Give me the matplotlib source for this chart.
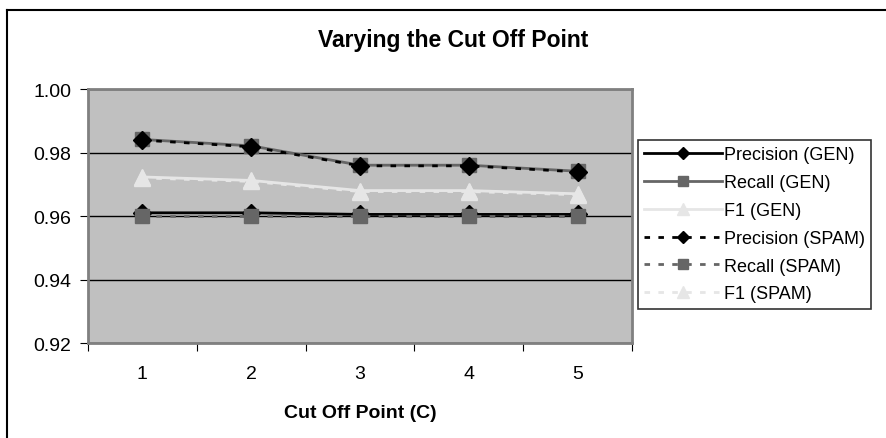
import matplotlib
matplotlib.use('Agg')
import matplotlib.pyplot as plt
from matplotlib.lines import Line2D

plt.rcParams['font.family'] = ['Liberation Sans', 'DejaVu Sans']

# data
cutoff = [1, 2, 3, 4, 5]
precision_gen = [0.9610, 0.9610, 0.9605, 0.9605, 0.9605]
recall_gen = [0.9841, 0.9821, 0.9760, 0.9760, 0.9741]
f1_gen = [0.9723, 0.9712, 0.9680, 0.9680, 0.9670]
precision_spam = [0.9839, 0.9818, 0.9758, 0.9758, 0.9739]
recall_spam = [0.9600, 0.9600, 0.9600, 0.9600, 0.9600]
f1_spam = [0.9720, 0.9709, 0.9677, 0.9677, 0.9667]
y_ticks = [0.92, 0.94, 0.96, 0.98, 1.00]

fig = plt.figure(figsize=(8.86, 4.39), dpi=100)
ax = fig.add_axes([88 / 886, 1 - 344 / 439, 544 / 886, 254 / 439])
ax.set_facecolor('#C0C0C0')

# figure border (only top and left visible)
fig.add_artist(Line2D([7 / 886, 7 / 886], [0, 1 - 11 / 439], color='black', lw=1.5))
fig.add_artist(Line2D([7 / 886, 1], [1 - 11 / 439, 1 - 11 / 439], color='black', lw=1.5))

ax.plot(cutoff, precision_gen, color='black', lw=2, marker='D', ms=9,
        mfc='black', mec='black', label='Precision (GEN)', zorder=3)
ax.plot(cutoff, recall_gen, color='#666666', lw=2, marker='s', ms=10.5,
        mfc='#666666', mec='#666666', label='Recall (GEN)', zorder=3)
ax.plot(cutoff, f1_gen, color='#E6E6E6', lw=2, marker='^', ms=12,
        mfc='#E6E6E6', mec='#E6E6E6', label='F1 (GEN)', zorder=3)
ax.plot(cutoff, precision_spam, color='black', lw=2, ls=(0, (2, 3)), marker='D', ms=9,
        mfc='black', mec='black', label='Precision (SPAM)', zorder=4)
ax.plot(cutoff, recall_spam, color='#666666', lw=2, ls=(0, (2, 3)), marker='s', ms=10.5,
        mfc='#666666', mec='#666666', label='Recall (SPAM)', zorder=4)
ax.plot(cutoff, f1_spam, color='#E6E6E6', lw=2, ls=(0, (2, 3)), marker='^', ms=12,
        mfc='#E6E6E6', mec='#E6E6E6', label='F1 (SPAM)', zorder=4)

ax.set_xlim(0.5, 5.5)
ax.set_ylim(0.92, 1.00)
ax.set_yticks(y_ticks)
ax.set_yticklabels([f'{v:.2f}' for v in y_ticks], fontsize=14)
ax.set_xticks([i + 0.5 for i in range(0, 6)])
ax.set_xticklabels([])
ax.set_xticks(cutoff, minor=True)
ax.set_xticklabels([str(c) for c in cutoff], minor=True, fontsize=14)
ax.tick_params(axis='x', which='minor', length=0, pad=16)
ax.tick_params(axis='x', which='major', length=6, direction='out', color='black')
ax.tick_params(axis='y', length=6, direction='out', color='black', pad=6)
ax.yaxis.grid(True, color='black', lw=1)
ax.set_axisbelow(True)
for s in ax.spines.values():
    s.set_color('#808080')
    s.set_linewidth(2)

fig.text(453 / 886, 1 - 40 / 439, 'Varying the Cut Off Point', fontsize=16.5,
         fontweight='bold', ha='center', va='center')
ax.set_xlabel('Cut Off Point (C)', fontsize=14, fontweight='bold', labelpad=16)

leg = fig.legend(loc='upper left', bbox_to_anchor=(638 / 886, 1 - 141 / 439),
                 fontsize=13, frameon=True, fancybox=False, edgecolor='black',
                 handlelength=4.3, handletextpad=0.1, labelspacing=0.6,
                 borderpad=0.35, borderaxespad=0, markerscale=0.7)
leg.get_frame().set_linewidth(1.2)

fig.savefig('out.png', dpi=100)
